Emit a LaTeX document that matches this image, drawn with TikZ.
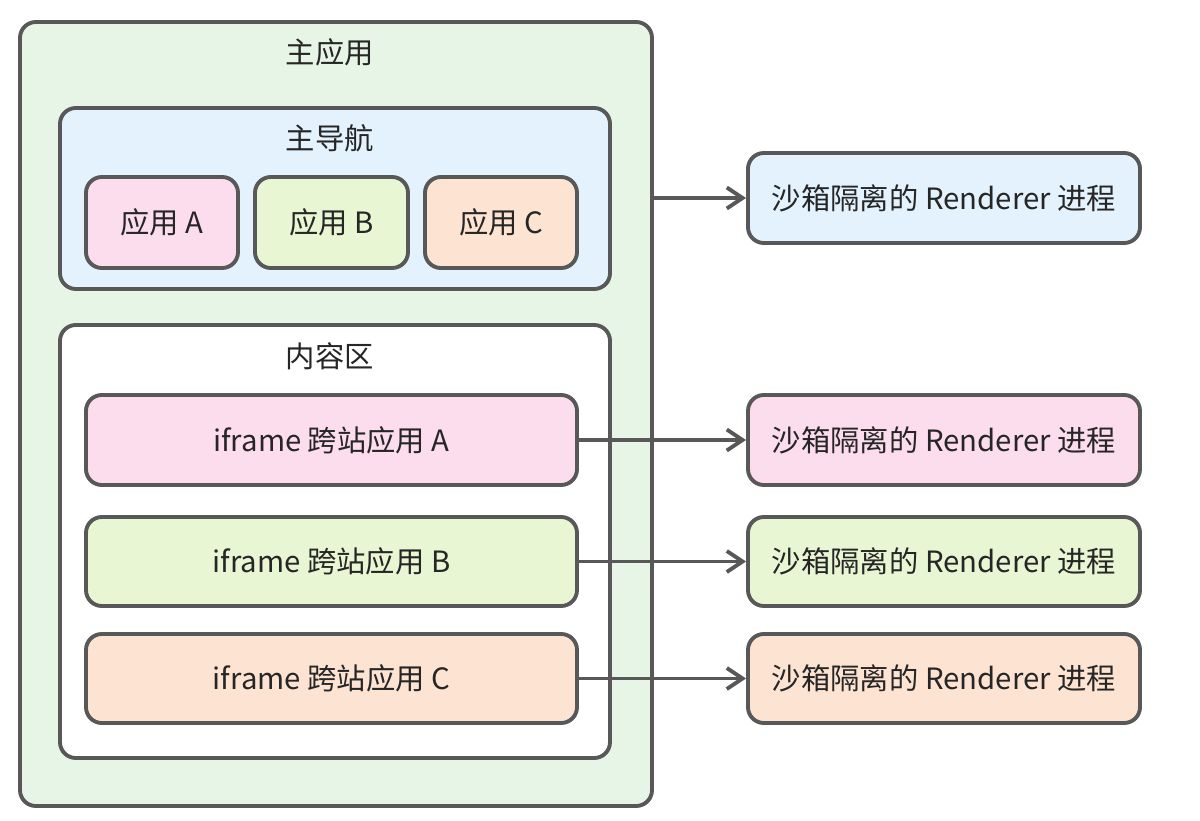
\documentclass[tikz,border=0pt]{standalone}
\usepackage{fontspec}
\setmainfont{Noto Sans CJK SC}
\usetikzlibrary{arrows.meta}

\definecolor{edgegray}{RGB}{88,88,88}
\definecolor{mainfill}{RGB}{231,245,231}
\definecolor{navfill}{RGB}{227,242,252}
\definecolor{pinkfill}{RGB}{251,221,237}
\definecolor{limefill}{RGB}{232,246,212}
\definecolor{peachfill}{RGB}{253,228,210}

\tikzset{
  box/.style={draw=edgegray, line width=2.2pt, rounded corners=9pt,
              font=\fontsize{16.7}{19}\selectfont, text=black!85},
  title/.style={font=\fontsize{16.7}{19}\selectfont, text=black!85},
  link/.style={draw=edgegray, line width=2.2pt,
               -{Straight Barb[length=9pt,width=12pt,line width=2.2pt]}}
}

\begin{document}
\begin{tikzpicture}[x=0.02cm, y=-0.02cm]
\useasboundingbox (0,0) rectangle (1200,821); % frame of the picture
% main app and its two areas
\node [box, fill=mainfill, minimum width=632*0.02cm, minimum height=784*0.02cm]
      (mainapp) at (336,414) {};
\node [title] (maintitle) at (330,52) {主应用};
\node [box, fill=navfill, minimum width=550*0.02cm, minimum height=181*0.02cm]
      (nav) at (335,198.5) {};
\node [title] (navtitle) at (330,138) {主导航};
\node [box, fill=white, minimum width=550*0.02cm, minimum height=433*0.02cm]
      (content) at (335,541.5) {};
\node [title] (contenttitle) at (330,356) {内容区};
% apps in the navigation
\node [box, fill=pinkfill, minimum width=152*0.02cm, minimum height=91*0.02cm]
      (appA) at (162,222.5) {应用 A};
\node [box, fill=limefill, minimum width=153*0.02cm, minimum height=91*0.02cm]
      (appB) at (331.5,222.5) {应用 B};
\node [box, fill=peachfill, minimum width=152*0.02cm, minimum height=91*0.02cm]
      (appC) at (501,222.5) {应用 C};
% iframes in the content area
\node [box, fill=pinkfill, minimum width=491*0.02cm, minimum height=90*0.02cm]
      (frameA) at (331.5,440) {iframe 跨站应用 A};
\node [box, fill=limefill, minimum width=491*0.02cm, minimum height=89*0.02cm]
      (frameB) at (331.5,561.5) {iframe 跨站应用 B};
\node [box, fill=peachfill, minimum width=491*0.02cm, minimum height=89*0.02cm]
      (frameC) at (331.5,678.5) {iframe 跨站应用 C};
% renderer processes
\node [box, fill=navfill, minimum width=392*0.02cm, minimum height=90*0.02cm]
      (procMain) at (944,198) {沙箱隔离的 Renderer 进程};
\node [box, fill=pinkfill, minimum width=392*0.02cm, minimum height=90*0.02cm]
      (procA) at (944,440) {沙箱隔离的 Renderer 进程};
\node [box, fill=limefill, minimum width=392*0.02cm, minimum height=89*0.02cm]
      (procB) at (944,561.5) {沙箱隔离的 Renderer 进程};
\node [box, fill=peachfill, minimum width=392*0.02cm, minimum height=89*0.02cm]
      (procC) at (944,678.5) {沙箱隔离的 Renderer 进程};
% connectors
\draw [link] (mainapp.east |- procMain) -- (procMain.west);
\draw [link] (frameA.east) -- (procA.west);
\draw [link] (frameB.east) -- (procB.west);
\draw [link] (frameC.east) -- (procC.west);
\end{tikzpicture}
\end{document}
